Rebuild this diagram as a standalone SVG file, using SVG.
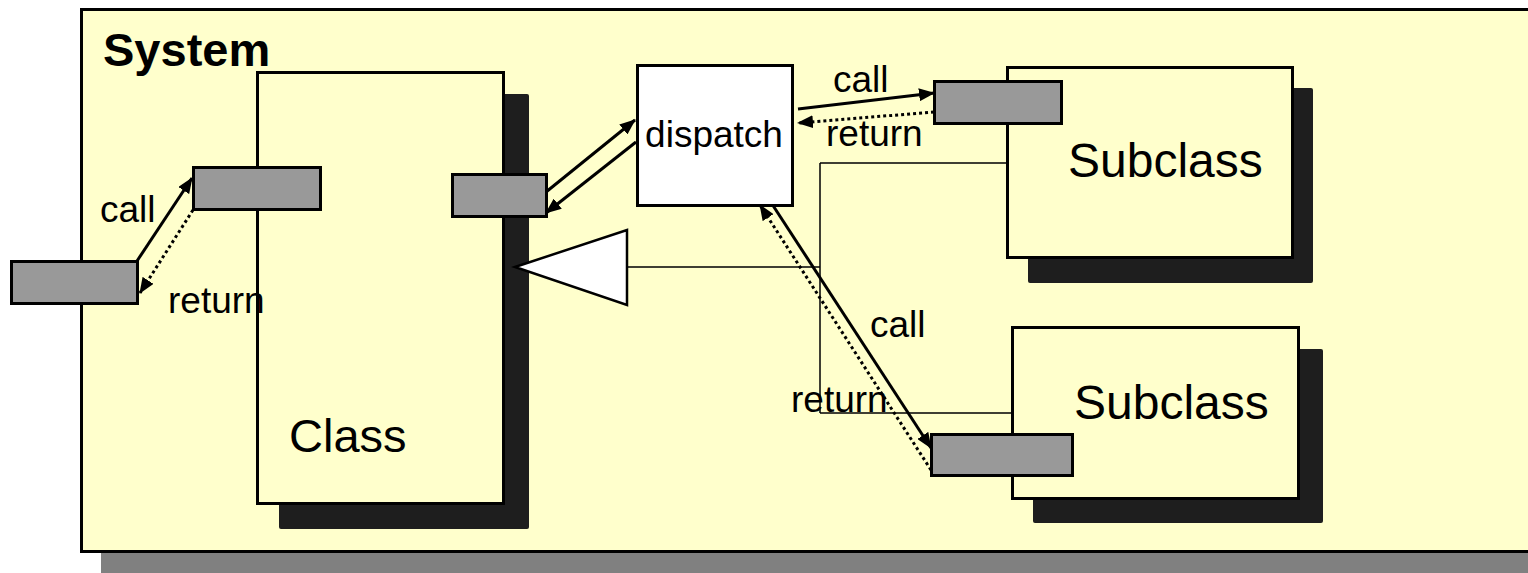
<svg xmlns="http://www.w3.org/2000/svg" width="1528" height="573" viewBox="0 0 1528 573">
<defs>
<marker id="ah" viewBox="0 0 16 13" refX="15" refY="6.5" markerWidth="16" markerHeight="13" markerUnits="userSpaceOnUse" orient="auto">
<path d="M0,0 L16,6.5 L0,13 Z" fill="#000"/>
</marker>
<style>
.sh{fill:#1e1e1e}
.box{fill:#ffffcc;stroke:#000;stroke-width:3}
.port{fill:#999;stroke:#000;stroke-width:3}
.call{fill:none;stroke:#000;stroke-width:3;marker-end:url(#ah)}
.ret{fill:none;stroke:#000;stroke-width:3;stroke-dasharray:3 3;marker-end:url(#ah)}
.inh{fill:none;stroke:#000;stroke-width:1.5}
.lbl{font-family:"Liberation Sans",Arial,sans-serif;font-size:37px;fill:#000}
.big{font-family:"Liberation Sans",Arial,sans-serif;font-size:47px;fill:#000}
</style>
</defs>
<g id="system">
<rect x="101" y="29" width="1500" height="544" fill="#808080"/>
<rect x="81.5" y="9.5" width="1500" height="542" fill="#ffffcc" stroke="#000" stroke-width="3"/>
</g>
<g id="class">
<rect class="sh" x="279" y="94" width="250" height="435" rx="2"/>
<rect class="box" x="257.5" y="72.5" width="246" height="431"/>
</g>
<g id="subclass1">
<rect class="sh" x="1028" y="88" width="285" height="195" rx="2"/>
<rect class="box" x="1007.5" y="67.5" width="285" height="190"/>
</g>
<g id="subclass2">
<rect class="sh" x="1033" y="349" width="290" height="174" rx="2"/>
<rect class="box" x="1012.5" y="327.5" width="286" height="171"/>
</g>
<g id="connectors">
<path class="inh" d="M627,267 H820 M820,163 V413 M820,163 H1007 M820,413 H1012"/>
<polygon points="515,267 627,230 627,305" fill="#fff" stroke="#000" stroke-width="2.5" stroke-linejoin="miter"/>
<line class="call" x1="137" y1="261" x2="192" y2="178"/>
<line class="ret" x1="193" y1="210" x2="140" y2="293"/>
<line class="call" x1="546" y1="192" x2="635" y2="120"/>
<line class="call" x1="636" y1="142" x2="546" y2="213"/>
<line class="call" x1="798" y1="109" x2="934" y2="93"/>
<line class="ret" x1="934" y1="112" x2="798" y2="123"/>
<line class="call" x1="772" y1="204" x2="931" y2="448"/>
<line class="ret" x1="931" y1="470" x2="760" y2="205"/>
</g>
<g id="dispatch">
<rect x="637.5" y="65.5" width="155" height="140" fill="#fff" stroke="#000" stroke-width="3"/>
<text class="lbl" x="714" y="147" text-anchor="middle">dispatch</text>
</g>
<g id="ports">
<rect class="port" x="11.5" y="261.5" width="126" height="42"/>
<rect class="port" x="193.5" y="167.5" width="127" height="42"/>
<rect class="port" x="452.5" y="174.5" width="94" height="42"/>
<rect class="port" x="934.5" y="81.5" width="127" height="42"/>
<rect class="port" x="931.5" y="434.5" width="141" height="41"/>
</g>
<g id="labels">
<text x="103" y="66" font-family="Liberation Sans, Arial, sans-serif" font-size="47" font-weight="bold">System</text>
<text class="big" x="289" y="452">Class</text>
<text class="big" x="1068" y="177" font-size="48" style="font-size:48px">Subclass</text>
<text class="big" x="1074" y="419" style="font-size:48px">Subclass</text>
<text class="lbl" x="100" y="222">call</text>
<text class="lbl" x="168" y="313">return</text>
<text class="lbl" x="833" y="92">call</text>
<text class="lbl" x="826" y="146">return</text>
<text class="lbl" x="870" y="337">call</text>
<text class="lbl" x="791" y="412">return</text>
</g>
</svg>
